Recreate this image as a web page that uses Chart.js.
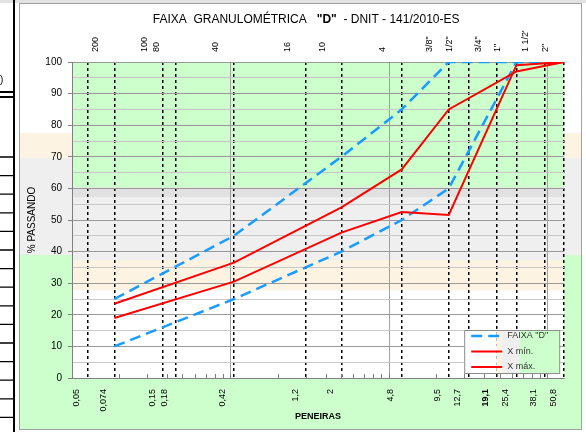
<!DOCTYPE html>
<html>
<head>
<meta charset="utf-8">
<script src="https://cdn.jsdelivr.net/npm/chart.js@4"></script>
<style>
  html, body { margin: 0; padding: 0; background: #fff; }
  canvas { display: block; }
</style>
</head>
<body>
<canvas id="chart" width="586" height="432"></canvas>
<script>
const FONT = "'Liberation Sans', Arial, sans-serif";

// sieve openings (mm), bottom labels and sieve names on top
const sieveMm = [0.05, 0.074, 0.15, 0.18, 0.42, 1.2, 2, 4.8, 9.5, 12.7, 19.1, 25.4, 38.1, 50.8];
const mmLabels = ["0,05", "0,074", "0,15", "0,18", "0,42", "1,2", "2", "4,8", "9,5", "12,7", "19,1", "25,4", "38,1", "50,8"];
const sieveNames = ["", "200", "100", "80", "40", "16", "10", "4", '3/8"', '1/2"', '3/4"', '1"', '1 1/2"', '2"'];

// faixa "D" limits (% passando)
const faixaSieves = [0.074, 0.42, 2, 4.8, 9.5, 25.4, 50.8];
const faixaMin = [10, 25, 40, 50, 60, 100, 100];
const faixaMax = [25, 45, 70, 85, 100, 100, 100];

// min / max of the working curve
const curveSieves = [0.074, 0.42, 2, 4.8, 9.5, 25.4, 50.8];
const curveMin = [19, 30.5, 46, 52.5, 51.6, 99, 100];
const curveMax = [23.5, 36.5, 54, 66, 85, 97, 100];

const titleParts = [["FAIXA  GRANULOMÉTRICA   ", "normal"], ['"D"', "bold"], ["  - DNIT - 141/2010-ES", "normal"]];

const GREEN = "#ccffcc", PEACH = "#fdf3e3", GRAY = "#efefef", DARK_GRAY = "#e1e1e1";
const BLUE = "#1a9bff", RED = "#ff0000";

const pts = (xs, ys) => xs.map((x, i) => ({ x: x, y: ys[i] }));

// log axis minor ticks: 2..9 times each decade start, plus decade marks
const gridTicks = [];
[0.04, 0.4, 4].forEach(b => {
  for (let k = 2; k <= 10; k++) gridTicks.push({ value: b * k, gridMajor: k === 10 });
});

const sheetBackground = {
  id: "sheetBackground",
  beforeDraw(chart) {
    const { ctx, width, height, chartArea: a, scales: { y } } = chart;
    ctx.save();
    ctx.fillStyle = "#fff";
    ctx.fillRect(0, 0, width, height);
    ctx.fillStyle = "#e2e2e2";
    ctx.fillRect(0, 0, width, 3);

    // cell fills behind the chart frame
    [[3, 133, "#fff"], [133, 158, PEACH], [158, 255, GRAY], [255, 430, GREEN]].forEach(([y0, y1, c]) => {
      ctx.fillStyle = c;
      ctx.fillRect(19, y0, 563, y1 - y0);
    });

    // plot area fill
    [[100, 60.3, GREEN], [60.3, 57.2, DARK_GRAY], [57.2, 37.3, GRAY], [37.3, 27.8, PEACH], [27.8, 0, "#fff"]].forEach(([v0, v1, c]) => {
      const y0 = y.getPixelForValue(v0), y1 = y.getPixelForValue(v1);
      ctx.fillStyle = c;
      ctx.fillRect(a.left, y0, a.right - a.left, y1 - y0);
    });

    ctx.strokeStyle = "#a0a0a0";
    ctx.lineWidth = 1;
    ctx.strokeRect(19.5, 3.5, 562, 426);

    // spreadsheet column on the left
    ctx.fillStyle = "#000";
    ctx.fillRect(13, 0, 2, height);
    ctx.fillRect(0, 91, 14, 2);
    ctx.fillRect(0, 96, 14, 2);
    ctx.strokeStyle = "#000";
    ctx.lineWidth = 1.3;
    ctx.beginPath();
    for (let r = 157; r < height; r += 18.6) {
      ctx.moveTo(0, r);
      ctx.lineTo(14, r);
    }
    ctx.stroke();
    ctx.font = "10px " + FONT;
    ctx.textBaseline = "middle";
    ctx.fillText(")", 0, 80);
    ctx.restore();
  }
};

const boxLegend = {
  id: "boxLegend",
  afterDatasetsDraw(chart) {
    const { ctx, chartArea: a } = chart;
    const items = chart.data.datasets.filter(d => d.label);
    const w = 95, h = 43;
    const x = a.right - 5 - w, y = a.bottom - 5 - h;
    ctx.save();
    [[0, 0.34, "#fff"], [0.34, 0.40, PEACH], [0.40, 0.58, GRAY], [0.58, 1, GREEN]].forEach(([f0, f1, c]) => {
      ctx.fillStyle = c;
      ctx.fillRect(x + w * f0, y, w * (f1 - f0), h);
    });
    ctx.strokeStyle = "#8c8c8c";
    ctx.lineWidth = 1;
    ctx.strokeRect(x + 0.5, y + 0.5, w, h);
    ctx.font = "9px " + FONT;
    ctx.textBaseline = "middle";
    items.forEach((d, i) => {
      const ly = y + 6 + i * 15.5;
      ctx.strokeStyle = d.borderColor;
      ctx.lineWidth = d.borderWidth;
      ctx.setLineDash(d.borderDash || []);
      ctx.beginPath();
      ctx.moveTo(x + 7, ly);
      ctx.lineTo(x + 38, ly);
      ctx.stroke();
      ctx.setLineDash([]);
      ctx.fillStyle = "#333";
      ctx.fillText(d.label, x + 43, ly);
    });
    ctx.restore();
  }
};

const chartTitle = {
  id: "chartTitle",
  afterDraw(chart) {
    const { ctx, chartArea: a } = chart;
    ctx.save();
    ctx.fillStyle = "#000";
    ctx.textBaseline = "middle";
    const widths = titleParts.map(([t, wt]) => {
      ctx.font = wt + " 12px " + FONT;
      return ctx.measureText(t).width;
    });
    let tx = (a.left + a.right) / 2 - 12 - widths.reduce((s, v) => s + v, 0) / 2;
    titleParts.forEach(([t, wt], i) => {
      ctx.font = wt + " 12px " + FONT;
      ctx.fillText(t, tx, 20);
      tx += widths[i];
    });
    ctx.restore();
  }
};

const sieveTicks = s => { s.ticks = sieveMm.map(v => ({ value: v })); };

new Chart(document.getElementById("chart"), {
  type: "line",
  data: {
    datasets: [
      { label: 'FAIXA "D"', data: pts(faixaSieves, faixaMin), borderColor: BLUE, borderWidth: 2.5, borderDash: [11, 6], order: 1 },
      { label: "", data: pts(faixaSieves, faixaMax), borderColor: BLUE, borderWidth: 2.5, borderDash: [11, 6], order: 1 },
      { label: "X mín.", data: pts(curveSieves, curveMin), borderColor: RED, borderWidth: 2, order: 0 },
      { label: "X máx.", data: pts(curveSieves, curveMax), borderColor: RED, borderWidth: 2, order: 0 }
    ]
  },
  options: {
    responsive: false,
    animation: false,
    devicePixelRatio: 1,
    layout: { padding: { top: 30, left: 20, right: 21, bottom: 10 } },
    elements: { point: { radius: 0 }, line: { tension: 0 } },
    plugins: { legend: { display: false }, tooltip: { enabled: false } },
    scales: {
      x: {
        type: "logarithmic",
        position: "bottom",
        weight: 1,
        min: 0.04,
        max: 50.8,
        afterBuildTicks: sieveTicks,
        afterFit: s => { s.height = 44; },
        grid: { color: "#000", lineWidth: 1.5, drawTicks: false },
        border: { color: "#808080", dash: [3, 3] },
        ticks: {
          autoSkip: false,
          minRotation: 90,
          maxRotation: 90,
          padding: 11,
          labelOffset: -11,
          color: "#000",
          font: c => ({ family: FONT, size: 9, weight: c.tick && c.tick.value === 19.1 ? "bold" : "normal" }),
          callback: v => mmLabels[sieveMm.indexOf(v)]
        },
        title: { display: true, text: "PENEIRAS", color: "#000", font: { family: FONT, size: 9, weight: "bold" }, padding: 0 }
      },
      xg: {
        type: "logarithmic",
        position: "bottom",
        weight: 0,
        min: 0.04,
        max: 50.8,
        afterBuildTicks: s => { s.ticks = gridTicks.map(t => ({ value: t.value, gridMajor: t.gridMajor })); },
        afterFit: s => { s.height = 0; },
        ticks: { display: false },
        border: { display: false },
        grid: {
          color: c => (c.tick && c.tick.gridMajor ? "#a0a0a0" : "rgba(0,0,0,0)"),
          tickColor: "#808080",
          tickLength: -4
        }
      },
      x2: {
        type: "logarithmic",
        position: "top",
        min: 0.04,
        max: 50.8,
        afterBuildTicks: sieveTicks,
        afterFit: s => { s.height = 32; },
        grid: { display: false, drawTicks: false },
        border: { display: false },
        ticks: {
          autoSkip: false,
          minRotation: 90,
          maxRotation: 90,
          padding: 10,
          labelOffset: -8,
          color: "#000",
          font: { family: FONT, size: 9 },
          callback: v => sieveNames[sieveMm.indexOf(v)]
        }
      },
      y: {
        min: 0,
        max: 100,
        afterFit: s => { s.width = 52; },
        grid: {
          color: c => (c.tick && c.tick.value % 10 === 0 ? "#9a9a9a" : "#c8c8c8"),
          tickColor: c => (c.tick && c.tick.value % 10 === 0 ? "#808080" : "rgba(0,0,0,0)"),
          tickLength: 4
        },
        border: { color: "#808080" },
        ticks: {
          stepSize: 5,
          autoSkip: false,
          padding: 6,
          color: "#000",
          font: { family: FONT, size: 10 },
          callback: v => (v % 10 === 0 ? v : "")
        },
        title: { display: true, text: "% PASSANDO", color: "#000", font: { family: FONT, size: 10 }, padding: { top: 6, bottom: 0 } }
      }
    }
  },
  plugins: [sheetBackground, boxLegend, chartTitle]
});
</script>
</body>
</html>
